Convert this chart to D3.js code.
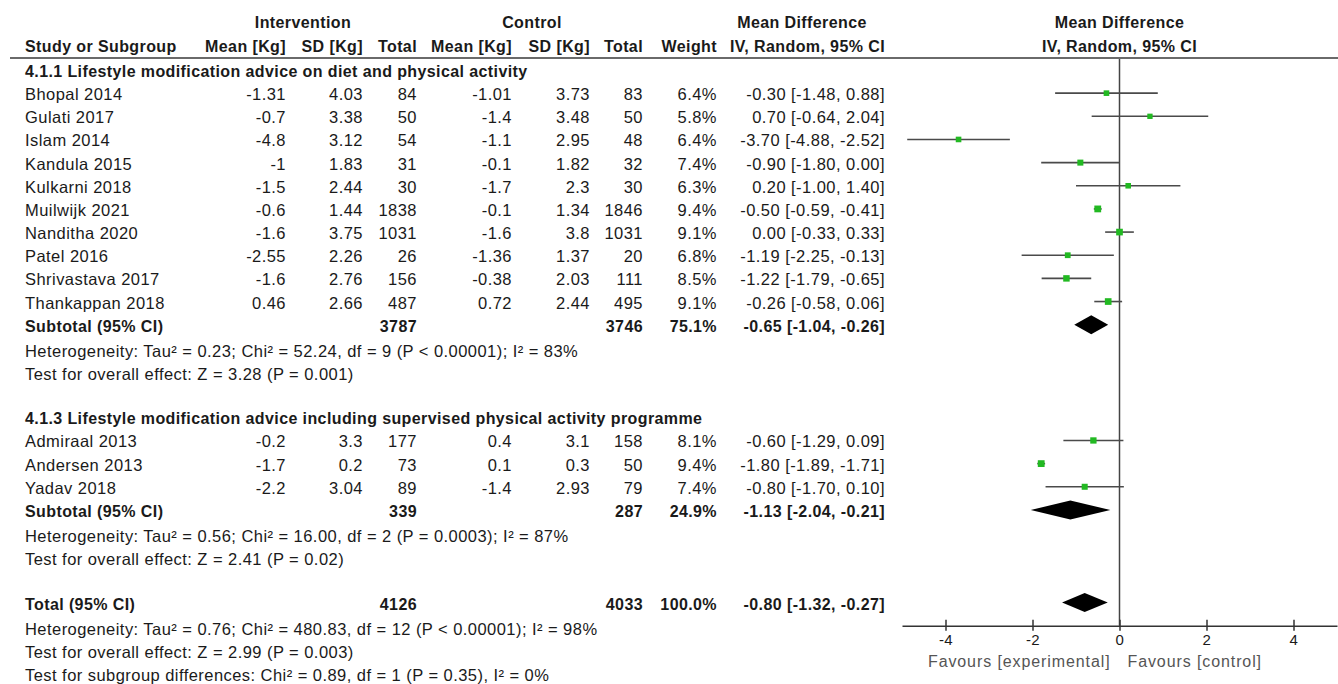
<!DOCTYPE html>
<html>
<head>
<meta charset="utf-8">
<script src="https://cdn.jsdelivr.net/npm/d3@7"></script>
<style>
  body { margin: 0; background: #fff; }
  svg text { font-family: "Liberation Sans", Arial, sans-serif; fill: #1a1a1a; letter-spacing: 0.45px; }
  .b { font-weight: bold; letter-spacing: 0.4px; }
</style>
</head>
<body>
<div id="chart"></div>
<script>
// study level data
const studies = ["Bhopal 2014", "Gulati 2017", "Islam 2014", "Kandula 2015", "Kulkarni 2018", "Muilwijk 2021",
  "Nanditha 2020", "Patel 2016", "Shrivastava 2017", "Thankappan 2018", "Admiraal 2013", "Andersen 2013", "Yadav 2018"];
const studyGroup = [0, 0, 0, 0, 0, 0, 0, 0, 0, 0, 1, 1, 1];
const intMean = [-1.31, -0.7, -4.8, -1, -1.5, -0.6, -1.6, -2.55, -1.6, 0.46, -0.2, -1.7, -2.2];
const intSD = [4.03, 3.38, 3.12, 1.83, 2.44, 1.44, 3.75, 2.26, 2.76, 2.66, 3.3, 0.2, 3.04];
const intTotal = [84, 50, 54, 31, 30, 1838, 1031, 26, 156, 487, 177, 73, 89];
const ctlMean = [-1.01, -1.4, -1.1, -0.1, -1.7, -0.1, -1.6, -1.36, -0.38, 0.72, 0.4, 0.1, -1.4];
const ctlSD = [3.73, 3.48, 2.95, 1.82, 2.3, 1.34, 3.8, 1.37, 2.03, 2.44, 3.1, 0.3, 2.93];
const ctlTotal = [83, 50, 48, 32, 30, 1846, 1031, 20, 111, 495, 158, 50, 79];
const weight = [6.4, 5.8, 6.4, 7.4, 6.3, 9.4, 9.1, 6.8, 8.5, 9.1, 8.1, 9.4, 7.4];
const meanDiff = [-0.30, 0.70, -3.70, -0.90, 0.20, -0.50, 0.00, -1.19, -1.22, -0.26, -0.60, -1.80, -0.80];
const ciLow = [-1.48, -0.64, -4.88, -1.80, -1.00, -0.59, -0.33, -2.25, -1.79, -0.58, -1.29, -1.89, -1.70];
const ciHigh = [0.88, 2.04, -2.52, 0.00, 1.40, -0.41, 0.33, -0.13, -0.65, 0.06, 0.09, -1.71, 0.10];

// subgroups
const groupTitles = ["4.1.1 Lifestyle modification advice on diet and physical activity",
  "4.1.3 Lifestyle modification advice including supervised physical activity programme"];
const subIntTotal = [3787, 339];
const subCtlTotal = [3746, 287];
const subWeight = [75.1, 24.9];
const subMD = [-0.65, -1.13];
const subLow = [-1.04, -2.04];
const subHigh = [-0.26, -0.21];
const subStats = [
  ["Heterogeneity: Tau\u00b2 = 0.23; Chi\u00b2 = 52.24, df = 9 (P < 0.00001); I\u00b2 = 83%", "Test for overall effect: Z = 3.28 (P = 0.001)"],
  ["Heterogeneity: Tau\u00b2 = 0.56; Chi\u00b2 = 16.00, df = 2 (P = 0.0003); I\u00b2 = 87%", "Test for overall effect: Z = 2.41 (P = 0.02)"]
];

// overall
const totalInt = 4126, totalCtl = 4033, totalWeight = 100.0;
const totalMD = -0.80, totalLow = -1.32, totalHigh = -0.27;
const totalStats = ["Heterogeneity: Tau\u00b2 = 0.76; Chi\u00b2 = 480.83, df = 12 (P < 0.00001); I\u00b2 = 98%",
  "Test for overall effect: Z = 2.99 (P = 0.003)",
  "Test for subgroup differences: Chi\u00b2 = 0.89, df = 1 (P = 0.35), I\u00b2 = 0%"];

const axisTicks = [-4, -2, 0, 2, 4];
const favoursLeft = "Favours [experimental]", favoursRight = "Favours [control]";

var width = 1338, height = 684;

var svg = d3.select("#chart").append("svg")
  .attr("width", width)
  .attr("height", height);

// scales
var x = d3.scaleLinear().domain([-5, 5]).range([902, 1337]);
var y = d3.scaleLinear().domain([0, 26]).range([70, 672]);
var boxSize = d3.scaleSqrt().domain([0, 10]).range([0, 7]);

// column right edges
var col = { intMean: 286, intSD: 363, intTotal: 417, ctlMean: 512, ctlSD: 590, ctlTotal: 643, weight: 717, ci: 885 };

var fmtCI = (m, l, h) => m.toFixed(2) + " [" + l.toFixed(2) + ", " + h.toFixed(2) + "]";
var txt = (xx, yy, s, anchor, cls) => svg.append("text")
  .attr("x", xx).attr("y", yy)
  .attr("text-anchor", anchor || "start")
  .attr("class", cls || null)
  .style("font-size", cls === "b" ? "16px" : "16.5px")
  .text(s);

// header
txt(303, 28, "Intervention", "middle", "b");
txt(532, 28, "Control", "middle", "b");
txt(802, 28, "Mean Difference", "middle", "b");
txt(x(0), 28, "Mean Difference", "middle", "b");
txt(25, 52, "Study or Subgroup", "start", "b");
txt(col.intMean, 52, "Mean [Kg]", "end", "b");
txt(col.intSD, 52, "SD [Kg]", "end", "b");
txt(col.intTotal, 52, "Total", "end", "b");
txt(col.ctlMean, 52, "Mean [Kg]", "end", "b");
txt(col.ctlSD, 52, "SD [Kg]", "end", "b");
txt(col.ctlTotal, 52, "Total", "end", "b");
txt(col.weight, 52, "Weight", "end", "b");
txt(col.ci, 52, "IV, Random, 95% CI", "end", "b");
txt(x(0), 52, "IV, Random, 95% CI", "middle", "b");

svg.append("line")
  .attr("x1", 10).attr("x2", width)
  .attr("y1", 58).attr("y2", 58)
  .attr("stroke", "#6a6a6a").attr("stroke-width", 2);

// zero line
var axisY = y(24);
svg.append("line")
  .attr("x1", x(0)).attr("x2", x(0))
  .attr("y1", 59).attr("y2", axisY)
  .attr("stroke", "#444").attr("stroke-width", 1.5);

var ty = 7; // text baseline offset from row centre
var row = 0;

var diamond = (m, l, h, yy) => svg.append("path")
  .attr("d", "M" + x(l) + "," + yy + "L" + x(m) + "," + (yy - 9.5) + "L" + x(h) + "," + yy + "L" + x(m) + "," + (yy + 9.5) + "Z")
  .attr("fill", "#000");

groupTitles.forEach(function(title, g) {
  txt(25, y(row) + ty, title, "start", "b");
  row++;
  studies.forEach(function(name, i) {
    if (studyGroup[i] !== g) return;
    var yy = y(row);
    txt(25, yy + ty, name);
    txt(col.intMean, yy + ty, String(intMean[i]), "end");
    txt(col.intSD, yy + ty, String(intSD[i]), "end");
    txt(col.intTotal, yy + ty, String(intTotal[i]), "end");
    txt(col.ctlMean, yy + ty, String(ctlMean[i]), "end");
    txt(col.ctlSD, yy + ty, String(ctlSD[i]), "end");
    txt(col.ctlTotal, yy + ty, String(ctlTotal[i]), "end");
    txt(col.weight, yy + ty, weight[i].toFixed(1) + "%", "end");
    txt(col.ci, yy + ty, fmtCI(meanDiff[i], ciLow[i], ciHigh[i]), "end");
    // confidence interval and weight box
    svg.append("line")
      .attr("x1", x(ciLow[i])).attr("x2", x(ciHigh[i]))
      .attr("y1", yy).attr("y2", yy)
      .attr("stroke", "#4a4a4a").attr("stroke-width", 1.6);
    var s = boxSize(weight[i]);
    svg.append("rect")
      .attr("x", x(meanDiff[i]) - s / 2).attr("y", yy - s / 2)
      .attr("width", s).attr("height", s)
      .attr("fill", "#22b922");
    row++;
  });
  var sy = y(row);
  txt(25, sy + ty, "Subtotal (95% CI)", "start", "b");
  txt(col.intTotal, sy + ty, String(subIntTotal[g]), "end", "b");
  txt(col.ctlTotal, sy + ty, String(subCtlTotal[g]), "end", "b");
  txt(col.weight, sy + ty, subWeight[g].toFixed(1) + "%", "end", "b");
  txt(col.ci, sy + ty, fmtCI(subMD[g], subLow[g], subHigh[g]), "end", "b");
  diamond(subMD[g], subLow[g], subHigh[g], sy);
  row++;
  subStats[g].forEach(function(s) {
    txt(25, y(row) + ty + 2, s);
    row++;
  });
  row++;
});

// overall total
var tyy = y(row);
txt(25, tyy + ty, "Total (95% CI)", "start", "b");
txt(col.intTotal, tyy + ty, String(totalInt), "end", "b");
txt(col.ctlTotal, tyy + ty, String(totalCtl), "end", "b");
txt(col.weight, tyy + ty, totalWeight.toFixed(1) + "%", "end", "b");
txt(col.ci, tyy + ty, fmtCI(totalMD, totalLow, totalHigh), "end", "b");
diamond(totalMD, totalLow, totalHigh, tyy);
row++;
totalStats.forEach(function(s) {
  txt(25, y(row) + ty + 2, s);
  row++;
});

// x axis
var axis = svg.append("g")
  .attr("transform", "translate(0," + axisY + ")")
  .call(d3.axisBottom(x).tickValues(axisTicks).tickSize(5).tickSizeOuter(0).tickFormat(d => String(d)));
axis.select(".domain").attr("stroke", "#333").attr("stroke-width", 1.5);
axis.selectAll(".tick line").attr("y1", -6).attr("y2", 5).attr("stroke", "#333").attr("stroke-width", 1.5);
axis.selectAll(".tick text")
  .attr("y", 9)
  .style("font-size", "15px")
  .style("font-family", "'Liberation Sans', Arial, sans-serif")
  .attr("fill", "#333");

svg.append("text")
  .attr("x", x(0) - 9).attr("y", axisY + 41)
  .attr("text-anchor", "end")
  .style("font-size", "16px").style("fill", "#555").style("letter-spacing", "0.9px")
  .text(favoursLeft);
svg.append("text")
  .attr("x", x(0) + 8).attr("y", axisY + 41)
  .attr("text-anchor", "start")
  .style("font-size", "16px").style("fill", "#555").style("letter-spacing", "0.9px")
  .text(favoursRight);
</script>
</body>
</html>
